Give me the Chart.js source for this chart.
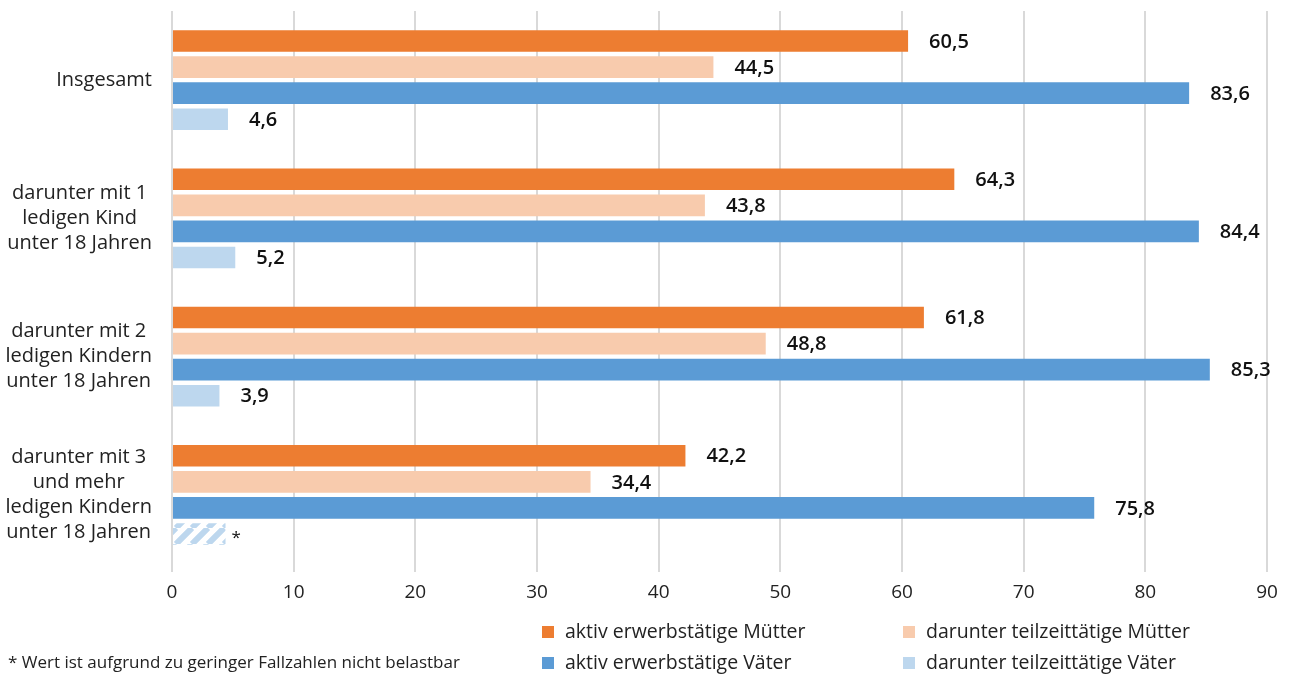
<!DOCTYPE html>
<html>
<head>
<meta charset="utf-8">
<script src="https://cdn.jsdelivr.net/npm/chart.js@4.4.1/dist/chart.umd.min.js"></script>
<style>
  html, body { margin: 0; padding: 0; background: #fff; }
</style>
</head>
<body>
<canvas id="myChart" width="1290" height="675"></canvas>
<script>
// Kategorien (mehrzeilig wie in der Grafik)
const categories = [
  ['Insgesamt'],
  ['darunter mit 1', 'ledigen Kind', 'unter 18 Jahren'],
  ['darunter mit 2', 'ledigen Kindern', 'unter 18 Jahren'],
  ['darunter mit 3', 'und mehr', 'ledigen Kindern', 'unter 18 Jahren']
];
const seriesNames = [
  'aktiv erwerbstätige Mütter',
  'darunter teilzeittätige Mütter',
  'aktiv erwerbstätige Väter',
  'darunter teilzeittätige Väter'
];
const muetterAktiv = [60.5, 64.3, 61.8, 42.2];
const muetterTeilzeit = [44.5, 43.8, 48.8, 34.4];
const vaeterAktiv = [83.6, 84.4, 85.3, 75.8];
const vaeterTeilzeit = [4.6, 5.2, 3.9, 4.4];
// Wert nicht belastbar -> schraffiert, Beschriftung "*"
const nichtBelastbar = [false, false, false, true];
const xTicks = [0, 10, 20, 30, 40, 50, 60, 70, 80, 90];
const footnote = '* Wert ist aufgrund zu geringer Fallzahlen nicht belastbar';

const colors = ['#ED7D31', '#F8CBAD', '#5B9BD5', '#BDD7EE'];
const FONT = '"Open Sans", "Noto Sans", sans-serif';

// Schraffur für unsichere Werte
function hatch(color) {
  const n = 16;
  const c = document.createElement('canvas');
  c.width = n; c.height = n;
  const g = c.getContext('2d');
  g.strokeStyle = color;
  g.lineWidth = 6;
  g.beginPath();
  for (let o = -n; o <= 2 * n; o += n) {
    g.moveTo(o, n);
    g.lineTo(o + n, 0);
  }
  g.stroke();
  return g.createPattern(c, 'repeat');
}
const hatched = hatch(colors[3]);

const fmt = v => v.toFixed(1).replace('.', ',');

const valueLabels = {
  id: 'valueLabels',
  afterDatasetsDraw(chart) {
    const ctx = chart.ctx;
    ctx.save();
    ctx.fillStyle = '#111';
    ctx.textAlign = 'left';
    ctx.textBaseline = 'middle';
    chart.data.datasets.forEach((ds, di) => {
      chart.getDatasetMeta(di).data.forEach((bar, i) => {
        const unsicher = di === 3 && nichtBelastbar[i];
        if (unsicher) {
          ctx.font = '17px ' + FONT;
          ctx.fillText('*', bar.x + 6, bar.y + 4);
        } else {
          ctx.font = '600 20px ' + FONT;
          ctx.fillText(fmt(ds.data[i]), bar.x + 21, bar.y + 1);
        }
      });
    });
    ctx.restore();
  }
};

const categoryLabels = {
  id: 'categoryLabels',
  afterDraw(chart) {
    const ctx = chart.ctx;
    const y = chart.scales.y;
    const right = 152, lh = 25;
    ctx.save();
    ctx.font = '20px ' + FONT;
    ctx.fillStyle = '#222';
    ctx.textAlign = 'center';
    ctx.textBaseline = 'middle';
    categories.forEach((lines, i) => {
      const w = Math.max(...lines.map(l => ctx.measureText(l).width));
      const cx = right - w / 2;
      const cy = y.getPixelForValue(i);
      lines.forEach((l, k) => {
        ctx.fillText(l, cx, cy + (k - (lines.length - 1) / 2) * lh);
      });
    });
    ctx.restore();
  }
};

const legendAndNote = {
  id: 'legendAndNote',
  afterDraw(chart) {
    const ctx = chart.ctx;
    const pos = [[542, 632], [903, 632], [542, 663], [903, 663]];
    ctx.save();
    ctx.font = '19.5px ' + FONT;
    ctx.textBaseline = 'middle';
    ctx.textAlign = 'left';
    seriesNames.forEach((name, i) => {
      const [x, y] = pos[i];
      ctx.fillStyle = colors[i];
      ctx.fillRect(x, y - 6, 12, 12);
      ctx.fillStyle = '#222';
      ctx.fillText(name, x + 23, y);
    });
    ctx.font = '17px ' + FONT;
    ctx.fillStyle = '#222';
    ctx.fillText(footnote, 8, 663);
    ctx.restore();
  }
};

const ctx = document.getElementById('myChart');

new Chart(ctx, {
  type: 'bar',
  data: {
    labels: categories,
    datasets: [
      { label: seriesNames[0], data: muetterAktiv, backgroundColor: colors[0] },
      { label: seriesNames[1], data: muetterTeilzeit, backgroundColor: colors[1] },
      { label: seriesNames[2], data: vaeterAktiv, backgroundColor: colors[2] },
      {
        label: seriesNames[3],
        data: vaeterTeilzeit,
        backgroundColor: nichtBelastbar.map(u => u ? hatched : colors[3])
      }
    ]
  },
  options: {
    indexAxis: 'y',
    responsive: false,
    devicePixelRatio: 1,
    animation: false,
    categoryPercentage: 0.755,
    barPercentage: 0.83,
    layout: { padding: { top: 11, right: 23, bottom: 71, left: 0 } },
    plugins: {
      legend: { display: false },
      tooltip: { enabled: false }
    },
    scales: {
      x: {
        min: 0,
        max: 90,
        afterBuildTicks: s => { s.ticks = xTicks.map(v => ({ value: v })); },
        afterFit: s => { s.height = 40; },
        ticks: {
          font: { family: FONT, size: 19 },
          color: '#222',
          padding: 9
        },
        grid: { color: '#d9d9d9', lineWidth: 2, tickLength: 8 },
        border: { display: false }
      },
      y: {
        afterFit: s => { s.width = 172; },
        ticks: { display: false },
        grid: { display: false },
        border: { display: false }
      }
    }
  },
  plugins: [valueLabels, categoryLabels, legendAndNote]
});
</script>
</body>
</html>
